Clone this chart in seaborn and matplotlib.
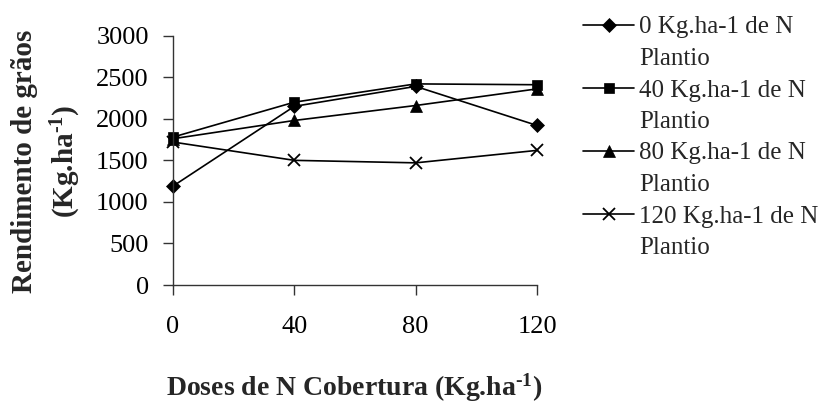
import matplotlib
matplotlib.use("Agg")
import matplotlib.pyplot as plt
from matplotlib.lines import Line2D
import seaborn as sns
import pandas as pd

# Nitrogen topdressing doses (x) and grain yield per planting-N level
doses_cobertura = [0, 40, 80, 120]
n0_plantio = [1190, 2150, 2390, 1920]
n40_plantio = [1780, 2200, 2420, 2410]
n80_plantio = [1760, 1980, 2160, 2360]
n120_plantio = [1720, 1500, 1470, 1620]

series_labels = ["0 Kg.ha-1 de N", "40 Kg.ha-1 de N",
                 "80 Kg.ha-1 de N", "120 Kg.ha-1 de N"]
series_values = [n0_plantio, n40_plantio, n80_plantio, n120_plantio]
series_markers = ["D", "s", "^", "x"]
marker_sizes = [7, 7, 8, 9]

y_ticks = [0, 500, 1000, 1500, 2000, 2500, 3000]
x_ticks = [0, 40, 80, 120]

sns.set_style("white")
plt.rcParams["font.family"] = ["Liberation Serif", "DejaVu Serif"]
plt.rcParams["mathtext.fontset"] = "custom"
plt.rcParams["mathtext.rm"] = "Liberation Serif"
plt.rcParams["mathtext.bf"] = "Liberation Serif:bold"
plt.rcParams["mathtext.it"] = "Liberation Serif:italic"

fig = plt.figure(figsize=(8.22, 4.05), dpi=100)
ax = fig.add_axes([173 / 822, 1 - 285 / 405, (537 - 173) / 822, (285 - 35.7) / 405])

rows = []
for lab, vals in zip(series_labels, series_values):
    for x, y in zip(doses_cobertura, vals):
        rows.append({"dose": x, "rend": y, "serie": lab})
df = pd.DataFrame(rows)

for lab, mk, ms in zip(series_labels, series_markers, marker_sizes):
    sub = df[df["serie"] == lab]
    sns.lineplot(data=sub, x="dose", y="rend", ax=ax, color="black",
                 linewidth=1.2, marker=mk, markersize=ms,
                 markeredgecolor="black", markerfacecolor="black",
                 markeredgewidth=1.3 if mk == "x" else 0.5, legend=False,
                 clip_on=False)

ax.set_xlim(0, 120)
ax.set_ylim(0, 3000)
ax.set_xticks(x_ticks)
ax.set_yticks(y_ticks)
ax.tick_params(axis="both", direction="out", length=7, width=1,
               color="#333333", labelsize=19, labelcolor="black",
               left=True, bottom=True)
ax.tick_params(axis="x", pad=15)
ax.tick_params(axis="y", pad=10.5)
for side in ["top", "right"]:
    ax.spines[side].set_visible(False)
for side in ["left", "bottom"]:
    ax.spines[side].set_color("#333333")
    ax.spines[side].set_linewidth(1.0)

ax.set_xlabel("")
ax.set_ylabel("")
# superscript "-1" written with a true hyphen
sup = "$^{\\mathbf{\u20101}}$"
fig.text(354 / 822, 1 - 388 / 405, "Doses de N Cobertura (Kg.ha" + sup + ")",
         ha="center", va="center", fontsize=20, fontweight="bold")
fig.text(47 / 822, 1 - 161 / 405, "Rendimento de grãos\n(Kg.ha" + sup + ")",
         ha="center", va="center", rotation=90, fontsize=21,
         fontweight="bold", linespacing=1.45, multialignment="center")

handles = []
labels = []
for lab, mk, ms in zip(series_labels, series_markers, marker_sizes):
    handles.append(Line2D([], [], color="black", linewidth=1.2, marker=mk,
                          markersize=ms, markeredgewidth=1.3 if mk == "x" else 0.5))
    labels.append(lab)
    handles.append(Line2D([], [], linestyle="none"))
    labels.append("Plantio")

leg = fig.legend(handles, labels, loc="upper left",
                 bbox_to_anchor=(573 / 822, 1 - 6 / 405), frameon=False,
                 fontsize=18, handlelength=2.05, handletextpad=0.2,
                 labelspacing=0.36, borderaxespad=0)

fig.savefig("out.png", dpi=100)
